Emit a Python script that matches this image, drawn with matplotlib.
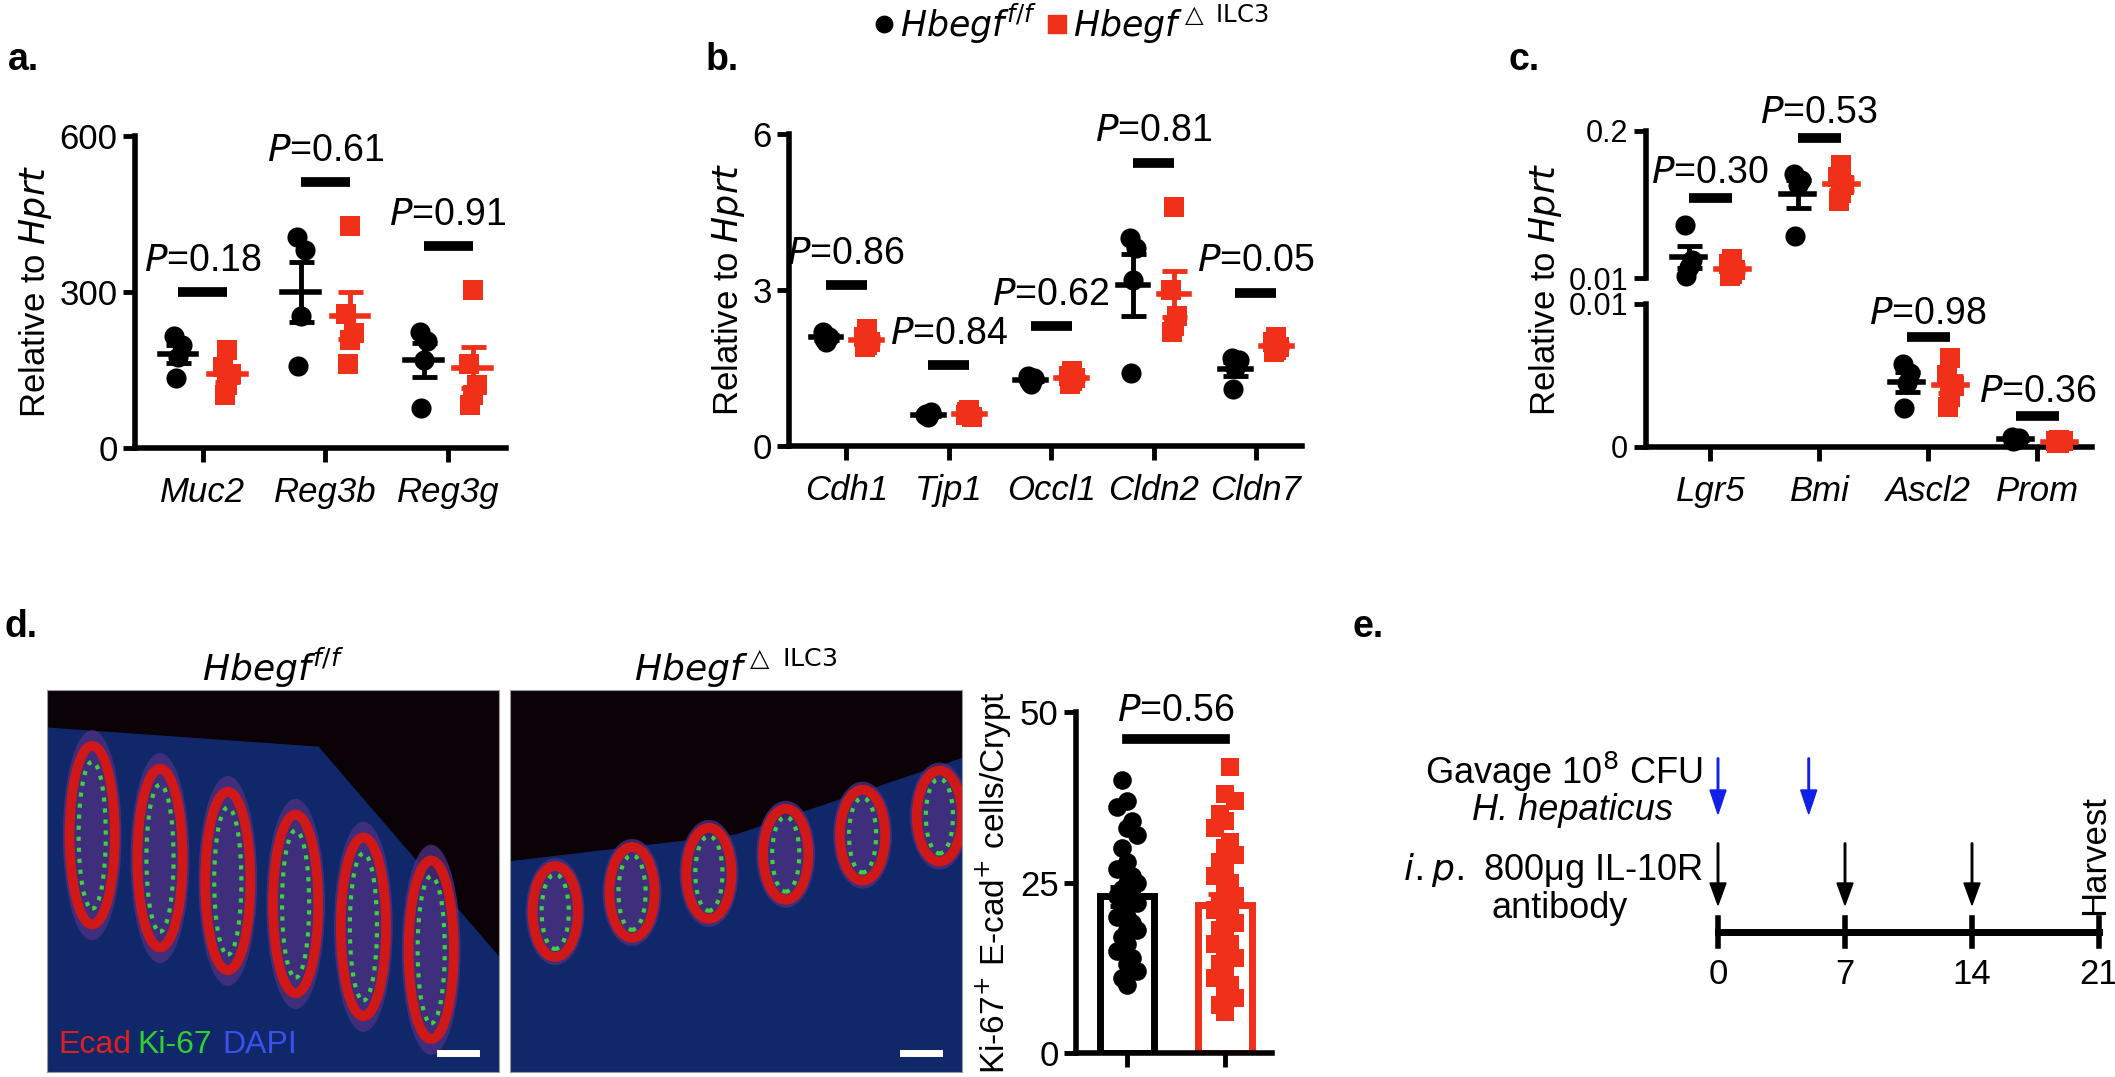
import matplotlib
matplotlib.use("Agg")
import matplotlib.pyplot as plt
from matplotlib.patches import Ellipse, FancyArrow
import numpy as np

plt.rcParams['font.family'] = ['Liberation Sans', 'DejaVu Sans']
plt.rcParams['font.size'] = 24

W, H = 2115, 1077
BLK = "black"
RED = "#f03018"

# ---- data ----
a_genes = ["Muc2", "Reg3b", "Reg3g"]
a_ctrl = [[215, 198, 175, 135], [406, 380, 254, 158], [224, 205, 170, 76]]
a_ko = [[188, 155, 142, 122, 102], [426, 257, 221, 208, 162], [303, 162, 122, 102, 82]]
a_p = ["0.18", "0.61", "0.91"]

b_genes = ["Cdh1", "Tjp1", "Occl1", "Cldn2", "Cldn7"]
b_ctrl = [[2.2, 2.1, 2.0, 2.05], [0.6, 0.65, 0.55, 0.62], [1.35, 1.3, 1.2, 1.25],
          [4.0, 3.8, 3.2, 1.4], [1.7, 1.65, 1.5, 1.1]]
b_ko = [[2.25, 2.1, 2.0, 1.95, 1.9], [0.7, 0.6, 0.55, 0.6, 0.65], [1.45, 1.35, 1.3, 1.25, 1.2],
        [4.6, 3.0, 2.5, 2.3, 2.2], [2.1, 2.0, 1.9, 1.85, 1.8]]
b_p = ["0.86", "0.84", "0.62", "0.81", "0.05"]

c_genes = ["Lgr5", "Bmi", "Ascl2", "Prom"]
c_ctrl = [[0.079, 0.033, 0.024, 0.012], [0.144, 0.137, 0.13, 0.064],
          [0.0058, 0.0052, 0.0045, 0.0027], [0.0007, 0.0006, 0.0005, 0.0004]]
c_ko = [[0.035, 0.028, 0.02, 0.015, 0.012], [0.156, 0.14, 0.13, 0.12, 0.11],
        [0.0062, 0.005, 0.0043, 0.0035, 0.0028], [0.0005, 0.0004, 0.0004, 0.0003, 0.0003]]
c_p = ["0.30", "0.53", "0.98", "0.36"]

d_ctrl = [40, 37, 36, 34, 33, 32, 30, 28, 27, 26, 25, 25, 24, 24, 23, 23, 22, 22, 21,
          20, 20, 19, 18, 18, 17, 16, 15, 14, 13, 12, 11, 10]
d_ko = [42, 38, 37, 35, 34, 33, 31, 30, 29, 28, 27, 26, 25, 24, 23, 22, 22, 21, 20,
        20, 19, 18, 17, 16, 16, 15, 14, 13, 12, 11, 10, 9, 8, 7, 6]
d_p = "0.56"

e_days = [0, 7, 14, 21]
e_antibody_days = [0, 7, 14]
e_gavage_days = [0, 5]

fig = plt.figure(figsize=(W / 100, H / 100), dpi=100)
ov = fig.add_axes([0, 0, 1, 1], zorder=10)
ov.set_xlim(0, W); ov.set_ylim(H, 0); ov.axis("off")
ov.patch.set_visible(False)


def add_ax(x0, x1, y0, y1):
    a = fig.add_axes([x0 / W, 1 - y1 / H, (x1 - x0) / W, (y1 - y0) / H])
    a.patch.set_visible(False)
    return a


def style(ax, lsize=25):
    for s in ["top", "right"]:
        ax.spines[s].set_visible(False)
    ax.spines["left"].set_linewidth(4)
    ax.spines["bottom"].set_linewidth(4)
    ax.tick_params(width=3.5, length=9, labelsize=lsize)


offs4 = [-0.03, 0.03, 0.0, -0.02]
offs5 = [0.0, -0.03, 0.03, 0.0, -0.02]


def dots(ax, x, vals, color, marker):
    vals = np.array(vals)
    off = offs4 if len(vals) == 4 else offs5
    ax.scatter(x + np.array(off[:len(vals)]), vals, s=210, c=color, marker=marker,
               zorder=3, linewidths=0, clip_on=False)
    m = vals.mean(); se = vals.std(ddof=1) / np.sqrt(len(vals))
    ax.plot([x - 0.15, x + 0.15], [m, m], color=color, lw=4, zorder=4)
    ax.errorbar(x, m, yerr=se, color=color, lw=3.5, capsize=9, capthick=3.5, zorder=4)


def pbar(ax, i, y, txt, dy):
    ax.plot([i - 0.2, i + 0.2], [y, y], color="black", lw=7, solid_capstyle="butt", clip_on=False)
    ax.text(i, y + dy, r"$\it{P}$=" + txt, ha="center", va="bottom", fontsize=27, clip_on=False)


def gene_panel(ax, genes, ctrl, ko, ps, gap):
    for i in range(len(genes)):
        dots(ax, i - 0.2, ctrl[i], BLK, "o")
        dots(ax, i + 0.2, ko[i], RED, "s")
        top = max(max(ctrl[i]), max(ko[i]))
        pbar(ax, i, top + gap, ps[i], gap * 0.3)
    ax.set_xticks(range(len(genes)))
    ax.set_xticklabels(genes, style="italic", fontsize=25)
    ax.tick_params(axis="x", length=10, pad=10)
    ax.set_ylabel(r"Relative to $\it{Hprt}$", fontsize=25)


# panel a
ax = add_ax(135, 506, 136, 448)
style(ax)
gene_panel(ax, a_genes, a_ctrl, a_ko, a_p, 85)
ax.set_xlim(-0.55, 2.47)
ax.set_ylim(0, 600); ax.set_yticks([0, 300, 600])

# panel b
ax = add_ax(789, 1302, 134, 446)
style(ax)
gene_panel(ax, b_genes, b_ctrl, b_ko, b_p, 0.85)
ax.set_xlim(-0.56, 4.45)
ax.set_ylim(0, 6); ax.set_yticks([0, 3, 6])

# panel c (broken axis)
axt = add_ax(1646, 2092, 131, 278)
axb = add_ax(1646, 2092, 304, 447)
for a_ in (axt, axb):
    style(a_, 22)
    a_.set_xlim(-0.59, 3.5)
axt.spines["bottom"].set_visible(False)
axt.set_xticks([])
axt.set_ylim(0.01, 0.2); axt.set_yticks([0.01, 0.2]); axt.set_yticklabels(["0.01", "0.2"])
axb.set_ylim(0, 0.01); axb.set_yticks([0, 0.01]); axb.set_yticklabels(["0", "0.01"])
axt.tick_params(axis="y", pad=4)
axb.tick_params(axis="y", pad=4)
for i in range(len(c_genes)):
    a_ = axt if i < 2 else axb
    dots(a_, i - 0.2, c_ctrl[i], BLK, "o")
    dots(a_, i + 0.2, c_ko[i], RED, "s")
    top = max(max(c_ctrl[i]), max(c_ko[i]))
    gap = 0.035 if i < 2 else 0.0015
    pbar(a_, i, top + gap, c_p[i], gap * 0.25)
axb.set_xticks(range(len(c_genes)))
axb.set_xticklabels(c_genes, style="italic", fontsize=25)
axb.tick_params(axis="x", length=10, pad=10)
ov.text(1545, 290, r"Relative to $\it{Hprt}$", rotation=90, ha="center", va="center", fontsize=25)

# panel labels + legend
for lab, x, y in [("a.", 8, 60), ("b.", 706, 60), ("c.", 1508, 60), ("d.", 5, 627), ("e.", 1352, 627)]:
    ov.text(x, y, lab, fontsize=27, fontweight="bold", va="center")
ov.scatter([884], [24], s=140, c=BLK, marker="o")
ov.text(900, 24, r"$\it{Hbegf}^{f/f}$", va="center", fontsize=25)
ov.scatter([1057], [24], s=170, c=RED, marker="s")
ov.text(1073, 24, r"$\it{Hbegf}^{\triangle\ \mathrm{ILC3}}$", va="center", fontsize=25)

# panel d micrographs (schematic)
for x0, x1, title in [(47, 499, r"$\it{Hbegf}^{f/f}$"), (510, 962, r"$\it{Hbegf}^{\triangle\ \mathrm{ILC3}}$")]:
    im = add_ax(x0, x1, 690, 1072)
    im.patch.set_visible(True)
    im.set_facecolor("#0a0206")
    im.set_xlim(0, 1); im.set_ylim(0, 1)
    im.set_xticks([]); im.set_yticks([])
    for s in im.spines.values():
        s.set_color("#999999")
    left = x0 < 100
    if left:
        im.fill([0, 0.6, 1, 1, 0], [0.9, 0.85, 0.3, 0, 0], color="#10286a", zorder=0)
    else:
        im.fill([0, 0.5, 1, 1, 0], [0.55, 0.62, 0.82, 0, 0], color="#10286a", zorder=0)
    for k in range(6):
        if left:
            cx = 0.1 + k * 0.15; cy = 0.62 - k * 0.06; hgt = 0.55
        else:
            cx = 0.1 + k * 0.17; cy = 0.42 + k * 0.05; hgt = 0.28
        im.add_patch(Ellipse((cx, cy), 0.13, hgt, fc="#4a3080", ec="none", alpha=0.8))
        im.add_patch(Ellipse((cx, cy), 0.1, hgt * 0.85, fc="none", ec="#d01818", lw=7))
        im.add_patch(Ellipse((cx, cy), 0.06, hgt * 0.7, fc="none", ec="#40d040", lw=3, ls=":"))
    im.plot([0.87, 0.95], [0.05, 0.05], color="white", lw=5)
    ov.text((x0 + x1) / 2, 668, title, ha="center", va="center", fontsize=26)
ov.text(58, 1045, "Ecad", color="#e02020", fontsize=23, va="center")
ov.text(137, 1045, "Ki-67", color="#30d030", fontsize=23, va="center")
ov.text(222, 1045, "DAPI", color="#3a50f0", fontsize=23, va="center")

# panel d bar chart
ax = add_ax(1076, 1272, 712, 1053)
style(ax)
for xi, vals, col, mk in [(0, d_ctrl, BLK, "o"), (1, d_ko, RED, "s")]:
    vals = np.array(vals)
    m = vals.mean(); se = vals.std(ddof=1) / np.sqrt(len(vals))
    ax.bar(xi, m, width=0.55, fc="white", ec=col, lw=5, zorder=1)
    order = np.argsort(vals)
    xs = np.array([(-1) ** k * 0.05 * (k % 3) for k in range(len(vals))])
    ax.scatter(xi + xs, vals[order], s=180, c=col, marker=mk, zorder=3, linewidths=0)
    ax.errorbar(xi, m, yerr=se, color=col, lw=3.5, capsize=12, capthick=3.5, zorder=4)
ax.plot([0, 1], [max(d_ctrl + d_ko) + 4, max(d_ctrl + d_ko) + 4], color="black", lw=7)
ax.text(0.5, max(d_ctrl + d_ko) + 5.5, r"$\it{P}$=" + d_p, ha="center", va="bottom", fontsize=27)
ax.set_ylim(0, 50); ax.set_yticks([0, 25, 50])
ax.set_xlim(-0.52, 1.48)
ax.set_xticks([0, 1]); ax.set_xticklabels(["", ""])
ax.tick_params(axis="x", length=10)
ax.set_ylabel(r"Ki-67$^{+}$ E-cad$^{+}$ cells/Crypt", fontsize=24)

# panel e timeline
ex0, ex1, ey = 1718, 2099, 932
ov.plot([ex0, ex1], [ey, ey], color="black", lw=5)


def dx(d):
    return ex0 + (ex1 - ex0) * d / 21


for d in e_days:
    ov.plot([dx(d), dx(d)], [ey - 14, ey + 14], color="black", lw=4)
    ov.text(dx(d), 975, str(d), ha="center", va="center", fontsize=25)
for d in e_antibody_days:
    ov.add_patch(FancyArrow(dx(d), 843, 0, 62, width=1.5, head_width=16, head_length=22,
                            length_includes_head=True, color="black"))
for d in e_gavage_days:
    ov.add_patch(FancyArrow(dx(d), 758, 0, 56, width=1.5, head_width=16, head_length=24,
                            length_includes_head=True, color="#1020e8"))
ov.text(1703, 772, "Gavage 10$^{8}$ CFU", ha="right", va="center", fontsize=26)
ov.text(1572, 810, "H. hepaticus", ha="center", va="center", fontsize=26, style="italic")
ov.text(1703, 870, r"$\it{i.p.}$ 800μg IL-10R", ha="right", va="center", fontsize=26)
ov.text(1560, 908, "antibody", ha="center", va="center", fontsize=26)
ov.text(dx(21) - 4, 855, "Harvest", rotation=90, ha="center", va="center", fontsize=25)

fig.savefig("out.png", dpi=100)
